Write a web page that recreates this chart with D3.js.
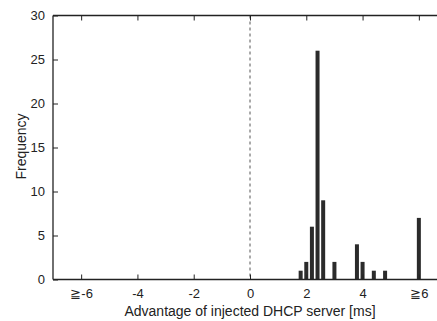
<!DOCTYPE html>
<html>
<head>
<meta charset="utf-8">
<script src="https://cdn.jsdelivr.net/npm/d3@7"></script>
<style>
  body { margin: 0; background: #fff; }
  text { font-family: "Liberation Sans", Arial, sans-serif; fill: #222; }
</style>
</head>
<body>
<svg width="437" height="321"></svg>
<script>
// histogram bins (centre of bin in ms) and counts
const binCenters = [1.8, 2.0, 2.2, 2.4, 2.6, 3.0, 3.8, 4.0, 4.4, 4.8, 6.0];
const counts = [1, 2, 6, 26, 9, 2, 4, 2, 1, 1, 7];
const xTicks = [-6, -4, -2, 0, 2, 4, 6];
const xTickLabels = ["≧-6", "-4", "-2", "0", "2", "4", "≧6"];
const yTicks = [0, 5, 10, 15, 20, 25, 30];

const svg = d3.select("svg");
const plotLeft = 53, plotRight = 447, plotTop = 15.5, plotBottom = 279.5;

const x = d3.scaleLinear().domain([-7, 7]).range([plotLeft, plotRight]);
const y = d3.scaleLinear().domain([0, 30]).range([plotBottom, plotTop]);

const barW = 4;
const axisColor = "#222";

// bars
svg.selectAll(".bar")
  .data(binCenters)
  .enter()
  .append("rect")
  .attr("class", "bar")
  .attr("x", (d) => x(d) - barW / 2)
  .attr("y", (d, i) => y(counts[i]))
  .attr("width", barW)
  .attr("height", (d, i) => plotBottom - y(counts[i]))
  .attr("fill", "#2b2b2b");

// dashed zero line
svg.append("line")
  .attr("x1", x(0)).attr("x2", x(0))
  .attr("y1", plotTop).attr("y2", plotBottom)
  .attr("stroke", "#555")
  .attr("stroke-width", 1)
  .attr("stroke-dasharray", "3,3");

// bottom axis, ticks pointing inward
svg.append("g")
  .attr("transform", `translate(0,${plotBottom})`)
  .call(d3.axisBottom(x).tickValues(xTicks).tickSize(-5).tickPadding(9)
    .tickFormat((d, i) => xTickLabels[i]))
  .call(g => g.select(".domain").remove())
  .call(g => g.selectAll("line").attr("stroke", axisColor))
  .call(g => g.selectAll("text").attr("font-size", 13).attr("font-family", "Liberation Sans, Arial, sans-serif").attr("fill", "#222"));

// top axis, mirrored ticks no labels
svg.append("g")
  .attr("transform", `translate(0,${plotTop})`)
  .call(d3.axisTop(x).tickValues(xTicks).tickSize(-5).tickFormat(""))
  .call(g => g.select(".domain").remove())
  .call(g => g.selectAll("line").attr("stroke", axisColor));

// left axis
svg.append("g")
  .attr("transform", `translate(${plotLeft},0)`)
  .call(d3.axisLeft(y).tickValues(yTicks).tickSize(-5).tickPadding(8))
  .call(g => g.select(".domain").remove())
  .call(g => g.selectAll("line").attr("stroke", axisColor))
  .call(g => g.selectAll("text").attr("font-size", 13).attr("font-family", "Liberation Sans, Arial, sans-serif").attr("fill", "#222"));

// frame lines
svg.append("line")
  .attr("x1", plotLeft).attr("x2", plotRight).attr("y1", plotBottom).attr("y2", plotBottom)
  .attr("stroke", axisColor).attr("stroke-width", 1.3);
svg.append("line")
  .attr("x1", plotLeft).attr("x2", plotRight).attr("y1", plotTop).attr("y2", plotTop)
  .attr("stroke", axisColor).attr("stroke-width", 1.3);
svg.append("line")
  .attr("x1", plotLeft).attr("x2", plotLeft).attr("y1", plotTop).attr("y2", plotBottom)
  .attr("stroke", axisColor).attr("stroke-width", 1.3);

// axis titles
svg.append("text")
  .attr("x", x(0))
  .attr("y", 316)
  .attr("text-anchor", "middle")
  .attr("font-size", 14)
  .text("Advantage of injected DHCP server [ms]");

svg.append("text")
  .attr("transform", `translate(26,${(plotTop + plotBottom) / 2 - 1}) rotate(-90)`)
  .attr("text-anchor", "middle")
  .attr("font-size", 14)
  .text("Frequency");
</script>
</body>
</html>
